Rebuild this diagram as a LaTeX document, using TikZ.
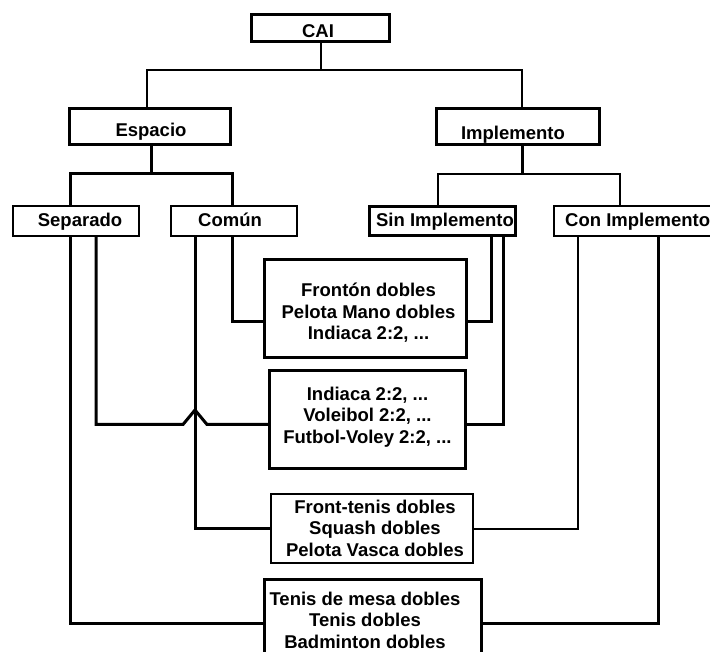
\documentclass[tikz,border=0pt]{standalone}
\usepackage{fontspec}
\setmainfont{Liberation Sans}
\usetikzlibrary{calc}
\begin{document}
\begin{tikzpicture}[x=1pt,y=-1pt,
  bx/.style={draw, inner sep=0pt, outer sep=0pt},
  thk/.style={line width=3pt},
  thn/.style={line width=2pt},
  lbl/.style={font=\bfseries\fontsize{18.5}{21.5}\selectfont, inner sep=0pt, align=center},
]
\useasboundingbox (0,0) rectangle (710,652);
% boxes
\node[bx,thk,minimum width=138pt,minimum height=27pt] (cai) at (320.5,28) {};
\node[bx,thk,minimum width=161pt,minimum height=36pt] (esp) at (150,126.5) {};
\node[bx,thk,minimum width=163pt,minimum height=36pt] (imp) at (518,126.5) {};
\node[bx,thn,minimum width=126pt,minimum height=30pt] (sep) at (76,221) {};
\node[bx,thn,minimum width=126pt,minimum height=30pt] (com) at (234,221) {};
\node[bx,thk,minimum width=146pt,minimum height=29pt] (sin) at (442.5,221) {};
\node[bx,thn,minimum width=160pt,minimum height=30pt] (con) at (634,221) {};
\node[bx,thk,minimum width=202pt,minimum height=98pt] (b1) at (365.5,308.5) {};
\node[bx,thk,minimum width=196pt,minimum height=98pt] (b2) at (367.5,419.5) {};
\node[bx,thn,minimum width=202pt,minimum height=69pt] (b3) at (372,528.5) {};
\node[bx,thk,minimum width=217pt,minimum height=87pt] (b4) at (373,623) {};
% texts
\node[lbl,anchor=base] (tcai) at (318,37.5) {CAI};
\node[lbl,anchor=base] (tesp) at (151,137) {Espacio};
\node[lbl,anchor=base] (timp) at (513,140) {Implemento};
\node[lbl,anchor=base] (tsep) at (80,227) {Separado};
\node[lbl,anchor=base] (tcom) at (230,227) {Común};
\node[lbl,anchor=base] (tsin) at (445,227) {Sin Implemento};
\node[lbl,anchor=base west] (tcon) at (565,227) {Con Implemento};
\node[lbl,anchor=base] (t1) at (368.5,340) {Frontón dobles\\Pelota Mano dobles\\Indiaca 2:2, ...};
\node[lbl,anchor=base] (t2) at (367.5,443) {Indiaca 2:2, ...\\Voleibol 2:2, ...\\Futbol-Voley 2:2, ...};
\node[lbl,anchor=base] (t3) at (375,556) {Front-tenis dobles\\Squash dobles\\Pelota Vasca dobles};
\node[lbl,anchor=base] (t4) at (365,648) {Tenis de mesa dobles\\Tenis dobles\\Badminton dobles};
% junctions
\coordinate (busA) at (320.5,70);
\coordinate (busB) at (151,174);
\coordinate (busC) at (522,174);
\coordinate (br1) at (183,424.5);
\coordinate (brt) at (195,410);
\coordinate (br2) at (207,424.5);
% connectors
\draw[thn] (cai.south) -- (busA);
\draw[thn] (busA) -| ([xshift=-3pt]esp.north);
\draw[thn] (busA) -| ([xshift=4pt]imp.north);
\draw[thk] ([xshift=1pt]esp.south) -- (busB);
\draw[thk] (busB) -| ([xshift=-6pt]sep.north);
\draw[thk] (busB) -| ([xshift=-2pt]com.north);
\draw[thk] ([xshift=4pt]imp.south) -- (busC);
\draw[thn] (busC) -| ([xshift=-4.5pt]sin.north);
\draw[thn] (busC) -| ([xshift=-14pt]con.north);
\draw[thk] ([xshift=-2pt]com.south) |- ([yshift=-13.5pt]b1.west);
\draw[thk] ([xshift=48.5pt]sin.south) |- ([yshift=-13.5pt]b1.east);
\draw[thk] ([xshift=20pt]sep.south) |- (br1) -- (brt) -- (br2) -- ([yshift=-5pt]b2.west);
\draw[thk] ([xshift=60.5pt]sin.south) |- ([yshift=-5pt]b2.east);
\draw[thk] ([xshift=-39pt]com.south) |- (b3.west);
\draw[thn] ([xshift=-56pt]con.south) |- (b3.east);
\draw[thk] ([xshift=-6pt]sep.south) |- (b4.west);
\draw[thk] ([xshift=24pt]con.south) |- (b4.east);
\end{tikzpicture}
\end{document}
